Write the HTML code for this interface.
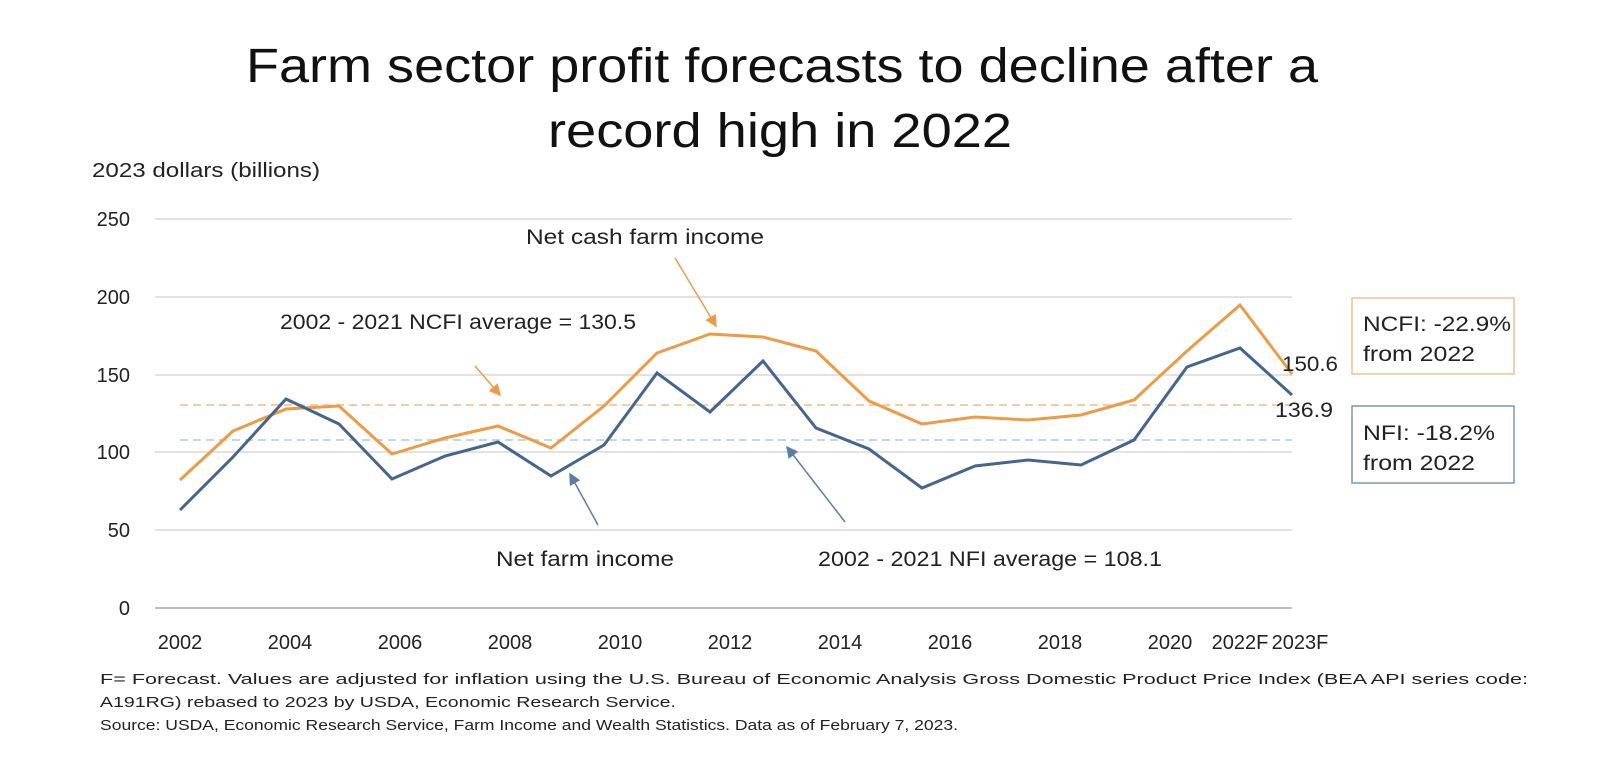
<!DOCTYPE html>
<html><head><meta charset="utf-8"><style>
body{margin:0;background:#fff;}
svg{display:block;font-family:"Liberation Sans",sans-serif;}
</style></head><body>
<svg width="1600" height="769" viewBox="0 0 1600 769">
<defs>
<marker id="ao" markerWidth="8" markerHeight="8" refX="7" refY="4" orient="auto"><path d="M0,0 L8,4 L0,8 z" fill="#ED9B45"/></marker>
<marker id="ab" markerWidth="8" markerHeight="8" refX="7" refY="4" orient="auto"><path d="M0,0 L8,4 L0,8 z" fill="#5B7FA3"/></marker>
</defs>
<text x="246" y="82" font-size="48" fill="#111" textLength="1072" lengthAdjust="spacingAndGlyphs">Farm sector profit forecasts to decline after a</text>
<text x="548" y="147" font-size="48" fill="#111" textLength="464" lengthAdjust="spacingAndGlyphs">record high in 2022</text>
<text x="92" y="177" font-size="20" fill="#222" textLength="228" lengthAdjust="spacingAndGlyphs">2023 dollars (billions)</text>
<g stroke="#d9d9d9" stroke-width="1.5">
<line x1="155" y1="219" x2="1292" y2="219"/><line x1="155" y1="297" x2="1292" y2="297"/>
<line x1="155" y1="375" x2="1292" y2="375"/><line x1="155" y1="452" x2="1292" y2="452"/>
<line x1="155" y1="530" x2="1292" y2="530"/>
</g>
<line x1="155" y1="608" x2="1292" y2="608" stroke="#bfbfbf" stroke-width="2"/>
<g font-size="20" fill="#222" text-anchor="end">
<text x="130" y="226">250</text><text x="130" y="304">200</text><text x="130" y="382">150</text>
<text x="130" y="459">100</text><text x="130" y="537">50</text><text x="130" y="615">0</text>
</g>
<g font-size="20" fill="#222" text-anchor="middle">
<text x="180" y="649">2002</text><text x="290" y="649">2004</text><text x="400" y="649">2006</text>
<text x="510" y="649">2008</text><text x="620" y="649">2010</text><text x="730" y="649">2012</text>
<text x="840" y="649">2014</text><text x="950" y="649">2016</text><text x="1060" y="649">2018</text>
<text x="1170" y="649">2020</text><text x="1240" y="649">2022F</text><text x="1300" y="649">2023F</text>
</g>
<line x1="180" y1="405" x2="1292" y2="405" stroke="#F8CBA0" stroke-width="2" stroke-dasharray="8,5"/>
<line x1="180" y1="440" x2="1292" y2="440" stroke="#BDD7EE" stroke-width="2" stroke-dasharray="8,5"/>
<polyline fill="none" stroke="#ED9B45" stroke-width="3" points="180,480 233,431 286,409 339,406 392,454 445,438 498,426 551,448 604,406 657,353 710,334 763,337 816,351 869,401 922,424 975,417 1028,420 1081,415 1134,400 1187,351 1240,305 1292,374"/>
<polyline fill="none" stroke="#44658E" stroke-width="3" points="180,510 233,457 286,399 339,424 392,479 445,456 498,442 551,476 604,445 657,373 710,412 763,361 816,428 869,449 922,488 975,466 1028,460 1081,465 1134,440 1187,367 1240,348 1292,395"/>
<line x1="675" y1="258" x2="716" y2="326" stroke="#ED9B45" stroke-width="1.5" marker-end="url(#ao)"/>
<line x1="475" y1="366" x2="500" y2="395" stroke="#ED9B45" stroke-width="1.5" marker-end="url(#ao)"/>
<line x1="598" y1="525" x2="570" y2="474" stroke="#5B7FA3" stroke-width="1.5" marker-end="url(#ab)"/>
<line x1="845" y1="522" x2="787" y2="447" stroke="#5B7FA3" stroke-width="1.5" marker-end="url(#ab)"/>
<g font-size="21" fill="#222" lengthAdjust="spacingAndGlyphs">
<text x="526" y="244" textLength="238" lengthAdjust="spacingAndGlyphs">Net cash farm income</text>
<text x="280" y="329" textLength="356" lengthAdjust="spacingAndGlyphs">2002 - 2021 NCFI average = 130.5</text>
<text x="496" y="566" textLength="178" lengthAdjust="spacingAndGlyphs">Net farm income</text>
<text x="818" y="566" textLength="344" lengthAdjust="spacingAndGlyphs">2002 - 2021 NFI average = 108.1</text>
<text x="1282" y="371" textLength="56" lengthAdjust="spacingAndGlyphs">150.6</text>
<text x="1275" y="417" textLength="58" lengthAdjust="spacingAndGlyphs">136.9</text>
</g>
<rect x="1352" y="298" width="162" height="76" fill="#fff" stroke="#F3C08B" stroke-width="1.5"/>
<rect x="1352" y="406" width="162" height="77" fill="#fff" stroke="#7F96AE" stroke-width="1.5"/>
<g font-size="21" fill="#222">
<text x="1363" y="331" textLength="148" lengthAdjust="spacingAndGlyphs">NCFI: -22.9%</text><text x="1363" y="361" textLength="112" lengthAdjust="spacingAndGlyphs">from 2022</text>
<text x="1363" y="440" textLength="132" lengthAdjust="spacingAndGlyphs">NFI: -18.2%</text><text x="1363" y="470" textLength="112" lengthAdjust="spacingAndGlyphs">from 2022</text>
</g>
<g font-size="15" fill="#222">
<text x="100" y="684" textLength="1428" lengthAdjust="spacingAndGlyphs">F= Forecast. Values are adjusted for inflation using the U.S. Bureau of Economic Analysis Gross Domestic Product Price Index (BEA API series code:</text>
<text x="100" y="707" textLength="576" lengthAdjust="spacingAndGlyphs">A191RG) rebased to 2023 by USDA, Economic Research Service.</text>
<text x="100" y="730" textLength="858" lengthAdjust="spacingAndGlyphs">Source: USDA, Economic Research Service, Farm Income and Wealth Statistics.  Data as of February 7, 2023.</text>
</g>
</svg>
</body></html>
